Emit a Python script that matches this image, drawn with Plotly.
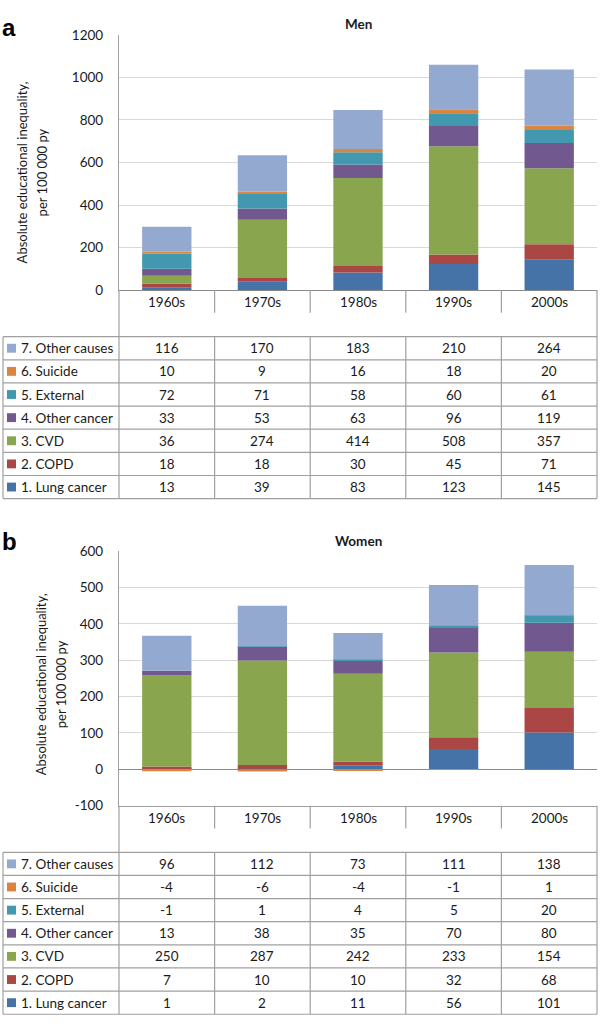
import plotly.graph_objects as go

# ---------------- data ----------------
decades = ["1960s", "1970s", "1980s", "1990s", "2000s"]
causes = ["1. Lung cancer", "2. COPD", "3. CVD", "4. Other cancer",
          "5. External", "6. Suicide", "7. Other causes"]

men_lung_cancer = [13, 39, 83, 123, 145]
men_copd = [18, 18, 30, 45, 71]
men_cvd = [36, 274, 414, 508, 357]
men_other_cancer = [33, 53, 63, 96, 119]
men_external = [72, 71, 58, 60, 61]
men_suicide = [10, 9, 16, 18, 20]
men_other_causes = [116, 170, 183, 210, 264]

women_lung_cancer = [1, 2, 11, 56, 101]
women_copd = [7, 10, 10, 32, 68]
women_cvd = [250, 287, 242, 233, 154]
women_other_cancer = [13, 38, 35, 70, 80]
women_external = [-1, 1, 4, 5, 20]
women_suicide = [-4, -6, -4, -1, 1]
women_other_causes = [96, 112, 73, 111, 138]

men_ticks = [0, 200, 400, 600, 800, 1000, 1200]
women_ticks = [-100, 0, 100, 200, 300, 400, 500, 600]

men_series = [men_lung_cancer, men_copd, men_cvd, men_other_cancer,
              men_external, men_suicide, men_other_causes]
women_series = [women_lung_cancer, women_copd, women_cvd, women_other_cancer,
                women_external, women_suicide, women_other_causes]

# ---------------- style ----------------
colors = ["#4572A7", "#AA4643", "#89A54E", "#71588F", "#4198AF", "#DB843D", "#93A9CF"]
FONT = "Lato"
TXT = "#1a1a1a"
LINE = "#A0A0A0"
GRID = "#D9D9D9"
AXIS = "#888888"

W, H = 600, 1024
X_LEFT, X_RIGHT, TABLE_LEFT = 119, 597, 3
COLW = (X_RIGHT - X_LEFT) / len(decades)
ROWH = 23.5


def px(p):
    return p / W


def py(p):
    return 1 - p / H


panels = [
    dict(series=men_series, xa="x", ya="y", top=27.3, bottom=286.6, rng=[0, 1200],
         ticks=men_ticks, title="Men", title_y=16.7, label="a", label_y=4,
         ytitle_x=(22, 42), ytitle_y=167),
    dict(series=women_series, xa="x2", ya="y2", top=551.7, bottom=810.4, rng=[-100, 600],
         ticks=women_ticks, title="Women", title_y=541, label="b", label_y=526,
         ytitle_x=(41, 61), ytitle_y=687),
]

fig = go.Figure()
shapes = []
annotations = []

for pi, p in enumerate(panels):
    for i, vals in enumerate(p["series"]):
        fig.add_trace(go.Bar(
            x=decades, y=vals, name=causes[i], marker=dict(color=colors[i], line=dict(width=0)),
            xaxis=p["xa"], yaxis=p["ya"], showlegend=False,
        ))
    header_bottom = p["bottom"] + 47.3
    table_bottom = header_bottom + ROWH * len(causes)

    # vertical borders below the plot
    shapes.append(dict(type="line", xref="paper", yref="paper",
                       x0=px(X_LEFT), x1=px(X_LEFT), y0=py(p["bottom"]), y1=py(table_bottom),
                       line=dict(color=LINE, width=1.2)))
    shapes.append(dict(type="line", xref="paper", yref="paper",
                       x0=px(X_RIGHT), x1=px(X_RIGHT), y0=py(p["bottom"]), y1=py(table_bottom),
                       line=dict(color=LINE, width=1.2)))
    shapes.append(dict(type="line", xref="paper", yref="paper",
                       x0=px(TABLE_LEFT), x1=px(TABLE_LEFT), y0=py(header_bottom), y1=py(table_bottom),
                       line=dict(color=LINE, width=1.2)))
    # horizontal lines of the table
    for k in range(len(causes) + 1):
        yy = py(header_bottom + k * ROWH)
        shapes.append(dict(type="line", xref="paper", yref="paper",
                           x0=px(TABLE_LEFT), x1=px(X_RIGHT), y0=yy, y1=yy,
                           line=dict(color=LINE, width=1.2)))
    # column separators
    for k in range(1, len(decades)):
        xx = px(X_LEFT + k * COLW)
        shapes.append(dict(type="line", xref="paper", yref="paper",
                           x0=xx, x1=xx, y0=py(p["bottom"]), y1=py(p["bottom"] + 23),
                           line=dict(color=LINE, width=1.2)))
        shapes.append(dict(type="line", xref="paper", yref="paper",
                           x0=xx, x1=xx, y0=py(header_bottom), y1=py(table_bottom),
                           line=dict(color=LINE, width=1.2)))

    # category labels
    for d in decades:
        annotations.append(dict(x=d, xref=p["xa"], y=py(p["bottom"] + 12.5), yref="paper",
                                text=d, showarrow=False, xanchor="center", yanchor="middle",
                                font=dict(family=FONT, size=13.5, color=TXT)))
    # table rows (top row = last cause)
    for r in range(len(causes)):
        ci = len(causes) - 1 - r
        yc = header_bottom + (r + 0.5) * ROWH
        shapes.append(dict(type="rect", xref="paper", yref="paper",
                           x0=px(7), x1=px(16), y0=py(yc - 4.5), y1=py(yc + 4.5),
                           fillcolor=colors[ci], line=dict(width=0)))
        annotations.append(dict(x=px(19), xref="paper", y=py(yc), yref="paper",
                                text=causes[ci], showarrow=False, xanchor="left", yanchor="middle",
                                font=dict(family=FONT, size=13.5, color=TXT)))
        for j, d in enumerate(decades):
            annotations.append(dict(x=d, xref=p["xa"], y=py(yc), yref="paper",
                                    text=str(p["series"][ci][j]), showarrow=False,
                                    xanchor="center", yanchor="middle",
                                    font=dict(family=FONT, size=13.5, color=TXT)))
    # title
    annotations.append(dict(x=px((X_LEFT + X_RIGHT) / 2), xref="paper", y=py(p["title_y"]), yref="paper",
                            text="<b>" + p["title"] + "</b>", showarrow=False, xanchor="center",
                            yanchor="middle", font=dict(family=FONT, size=13.5, color=TXT)))
    # panel letter
    annotations.append(dict(x=0, xref="paper", y=py(p["label_y"]), yref="paper",
                            text="<b>" + p["label"] + "</b>", showarrow=False, xanchor="left",
                            yanchor="top", font=dict(family="Liberation Sans", size=24, color="#000")))
    # y-axis title (two lines)
    for txt, xx in zip(["Absolute educational inequality,", "per 100 000 py"], p["ytitle_x"]):
        annotations.append(dict(x=px(xx), xref="paper", y=py(p["ytitle_y"]), yref="paper",
                                text=txt, textangle=-90, showarrow=False, xanchor="center",
                                yanchor="middle", font=dict(family=FONT, size=13, color=TXT)))


def yaxis(p, zeroline):
    return dict(domain=[py(p["bottom"]), py(p["top"])], range=p["rng"], tickvals=p["ticks"],
                ticktext=[str(t) for t in p["ticks"]],
                showgrid=True, gridcolor=GRID, gridwidth=1, showline=True, linecolor=LINE,
                linewidth=1.2, ticks="", zeroline=zeroline, zerolinecolor=AXIS, zerolinewidth=1,
                tickfont=dict(family=FONT, size=13.5, color=TXT), ticklabelstandoff=12,
                anchor=p["xa"], fixedrange=True)


def xaxis(p, linecolor):
    return dict(domain=[px(X_LEFT), px(X_RIGHT)], range=[-0.5, 4.5], showticklabels=False,
                showline=True, linecolor=linecolor, linewidth=1.2, ticks="", showgrid=False,
                zeroline=False, anchor=p["ya"], fixedrange=True, type="category")


fig.update_layout(
    width=W, height=H, margin=dict(l=0, r=0, t=0, b=0),
    paper_bgcolor="white", plot_bgcolor="white",
    barmode="relative", bargap=0.484,
    xaxis=xaxis(panels[0], AXIS), yaxis=yaxis(panels[0], False),
    xaxis2=xaxis(panels[1], LINE), yaxis2=yaxis(panels[1], True),
    shapes=shapes, annotations=annotations,
    font=dict(family=FONT, color=TXT),
)

fig.write_html("out.html", config={"displayModeBar": False},
               post_script="document.body.style.margin='0';document.body.style.overflow='hidden';")
